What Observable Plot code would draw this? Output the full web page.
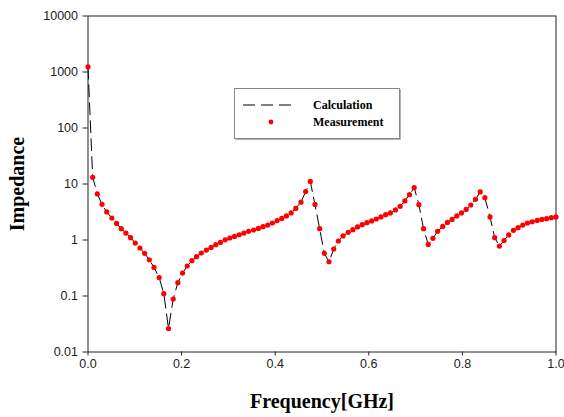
<!DOCTYPE html>
<html><head><meta charset="utf-8">
<script src="https://cdn.jsdelivr.net/npm/d3@7"></script>
<script src="https://cdn.jsdelivr.net/npm/@observablehq/plot@0.6"></script>
<style>
html,body{margin:0;padding:0;background:#fff;}
#wrap{position:relative;width:564px;height:417px;}
#legend{position:absolute;left:0;top:0;}
</style>
</head><body>
<div id="wrap"></div>
<script>
// Frequency [GHz] of each sample
const frequency = [
 0.000,0.010,0.020,0.030,0.040,0.051,0.061,0.071,0.081,0.091,
 0.101,0.111,0.121,0.131,0.141,0.152,0.162,0.172,0.182,0.192,
 0.202,0.212,0.222,0.232,0.242,0.253,0.263,0.273,0.283,0.293,
 0.303,0.313,0.323,0.333,0.343,0.354,0.364,0.374,0.384,0.394,
 0.404,0.414,0.424,0.434,0.444,0.455,0.465,0.475,0.485,0.495,
 0.505,0.515,0.525,0.535,0.545,0.556,0.566,0.576,0.586,0.596,
 0.606,0.616,0.626,0.636,0.646,0.657,0.667,0.677,0.687,0.697,
 0.707,0.717,0.727,0.737,0.747,0.758,0.768,0.778,0.788,0.798,
 0.808,0.818,0.828,0.838,0.848,0.859,0.869,0.879,0.889,0.899,
 0.909,0.919,0.929,0.939,0.949,0.960,0.970,0.980,0.990,1.000];
// Measured impedance
const measurement = [
 1239, 13.2, 6.64, 4.33, 3.17, 2.47, 1.98, 1.59, 1.33, 1.10,
 0.88, 0.72, 0.576, 0.444, 0.324, 0.214, 0.110, 0.0263, 0.088, 0.173,
 0.257, 0.343, 0.427, 0.503, 0.586, 0.662, 0.738, 0.824, 0.906, 1.01,
 1.086, 1.16, 1.24, 1.33, 1.43, 1.51, 1.61, 1.73, 1.85, 2.01,
 2.21, 2.43, 2.69, 3.04, 3.67, 4.74, 7.31, 11.1, 4.31, 1.59,
 0.576, 0.409, 0.69, 0.96, 1.18, 1.37, 1.53, 1.71, 1.88, 2.04,
 2.19, 2.37, 2.58, 2.83, 3.04, 3.44, 3.99, 4.98, 6.45, 8.61,
 4.28, 1.59, 0.834, 1.07, 1.43, 1.75, 2.06, 2.33, 2.69, 3.04,
 3.52, 4.22, 5.32, 7.21, 5.70, 2.58, 1.10, 0.78, 0.98, 1.23,
 1.49, 1.66, 1.85, 2.01, 2.12, 2.24, 2.33, 2.40, 2.50, 2.58];
// Calculated impedance (follows the measured points)
const calculation = measurement.slice();

const xTicks = [0, 0.2, 0.4, 0.6, 0.8, 1.0];
const xTickLabels = ["0.0", "0.2", "0.4", "0.6", "0.8", "1.0"];
const yTicks = [0.01, 0.1, 1, 10, 100, 1000, 10000];
const yTickLabels = ["0.01", "0.1", "1", "10", "100", "1000", "10000"];
const seriesNames = ["Calculation", "Measurement"];
const xTitle = "Frequency[GHz]";
const yTitle = "Impedance";

const meas = frequency.map((f, i) => ({f, z: measurement[i]}));
const calc = frequency.map((f, i) => ({f, z: calculation[i]}));
const serif = "'Liberation Serif', 'Times New Roman', serif";

const plot = Plot.plot({
  width: 564, height: 417,
  marginLeft: 87.5, marginRight: 8.5, marginTop: 15.5, marginBottom: 65.5,
  style: {fontFamily: "'Liberation Sans', Arial, sans-serif", fontSize: "12.5px", color: "#222", background: "#fff"},
  x: {domain: [0, 1]},
  y: {type: "log", domain: [0.01, 10000]},
  marks: [
    Plot.frame({stroke: "#222"}),
    Plot.axisX({ticks: xTicks, tickFormat: d => xTickLabels[xTicks.indexOf(d)], tickSize: 4, tickPadding: 3, label: null}),
    Plot.axisY({ticks: yTicks, tickFormat: d => yTickLabels[yTicks.indexOf(d)], tickSize: 5, tickPadding: 5, label: null}),
    Plot.line(calc, {x: "f", y: "z", stroke: "#000", strokeWidth: 1, strokeDasharray: "12,6"}),
    Plot.dot(meas, {x: "f", y: "z", r: 2.6, fill: "#ff0000", stroke: null}),
    Plot.text([xTitle], {frameAnchor: "bottom", dy: 50, fontFamily: serif, fontWeight: "bold", fontSize: 20, fill: "#000", lineAnchor: "middle", textAnchor: "middle"}),
    Plot.text([yTitle], {frameAnchor: "left", dx: -70.5, rotate: -90, fontFamily: serif, fontWeight: "bold", fontSize: 20, fill: "#000", lineAnchor: "middle", textAnchor: "middle"})
  ]
});
const wrap = document.getElementById("wrap");
wrap.appendChild(plot);

// legend box
const ns = "http://www.w3.org/2000/svg";
const lg = document.createElementNS(ns, "svg");
lg.setAttribute("id", "legend");
lg.setAttribute("width", 564);
lg.setAttribute("height", 417);
lg.style.pointerEvents = "none";
lg.innerHTML = `
  <rect x="235.5" y="89.5" width="165" height="50" fill="#666"/>
  <rect x="234.5" y="88.5" width="165" height="50" fill="#fff" stroke="#888"/>
  <line x1="243" x2="293" y1="105" y2="105" stroke="#000" stroke-width="1" stroke-dasharray="12,6"/>
  <circle cx="271" cy="122" r="2.4" fill="#ff0000"/>
  <text x="313" y="109" font-family="${serif}" font-weight="bold" font-size="12">${seriesNames[0]}</text>
  <text x="313" y="126" font-family="${serif}" font-weight="bold" font-size="12">${seriesNames[1]}</text>`;
wrap.appendChild(lg);
</script>
</body></html>
